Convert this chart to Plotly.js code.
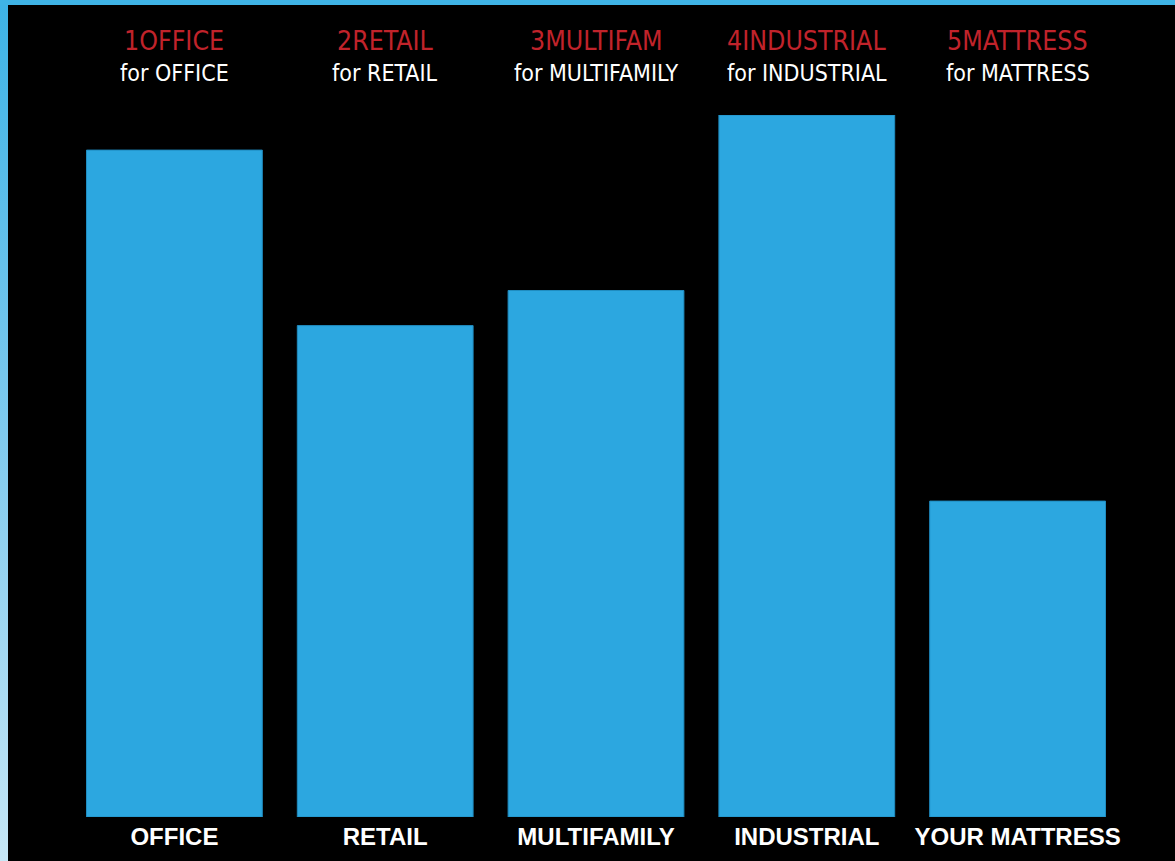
<!DOCTYPE html>
<html>
<head>
<meta charset="utf-8">
<script src="https://cdn.plot.ly/plotly-3.0.1.min.js"></script>
<style>
html, body { margin: 0; padding: 0; width: 1175px; height: 861px; overflow: hidden; }
body { background: linear-gradient(to bottom, #3db3e6 0%, #7fcaee 50%, #c6e7f6 100%); position: relative; }
#top { position: absolute; left: 0; top: 0; width: 1175px; height: 5px; background: #3fb4e6; }
#chart { position: absolute; left: 8px; top: 5px; width: 1167px; height: 856px; }
</style>
</head>
<body>
<div id="top"></div>
<div id="chart"></div>
<script>
const categories = ["OFFICE", "RETAIL", "MULTIFAMILY", "INDUSTRIAL", "YOUR MATTRESS"];
const values = [9.5, 7.0, 7.5, 10.0, 4.5];
const topCodes = ["1OFFICE", "2RETAIL", "3MULTIFAM", "4INDUSTRIAL", "5MATTRESS"];
const subLabels = ["for OFFICE", "for RETAIL", "for MULTIFAMILY", "for INDUSTRIAL", "for MATTRESS"];

const narrow = "'Liberation Sans Narrow', 'DejaVu Sans Condensed', 'Liberation Sans', sans-serif";

const annotations = [];
categories.forEach((c, i) => {
  annotations.push({
    x: c, xref: "x", y: 1, yref: "paper", yanchor: "middle",
    yshift: 75, text: topCodes[i], showarrow: false,
    font: { family: narrow, size: 26.5, color: "#c1232b" }
  });
  annotations.push({
    x: c, xref: "x", y: 1, yref: "paper", yanchor: "middle",
    yshift: 42, text: subLabels[i], showarrow: false,
    font: { family: narrow, size: 23, color: "#ffffff" }
  });
});

const trace = {
  type: "bar",
  x: categories,
  y: values,
  marker: { color: "#2ca7e0", line: { color: "#1f8cc0", width: 1 } },
  hoverinfo: "none"
};

const layout = {
  width: 1167, height: 856,
  margin: { l: 60.5, r: 51.5, t: 110, b: 44, pad: 0 },
  paper_bgcolor: "#000000",
  plot_bgcolor: "#000000",
  bargap: 0.166,
  showlegend: false,
  xaxis: {
    type: "category", range: [-0.5, 4.5],
    showgrid: false, zeroline: false, showline: false, ticks: "",
    tickfont: { family: "'Liberation Sans', Arial, sans-serif", size: 24, color: "#ffffff", weight: "bold" },
    ticklabelstandoff: 3
  },
  yaxis: {
    range: [0, 10], showgrid: false, zeroline: false, showline: false,
    showticklabels: false, ticks: ""
  },
  annotations: annotations
};

Plotly.newPlot("chart", [trace], layout, { displayModeBar: false, staticPlot: true });
</script>
</body>
</html>
